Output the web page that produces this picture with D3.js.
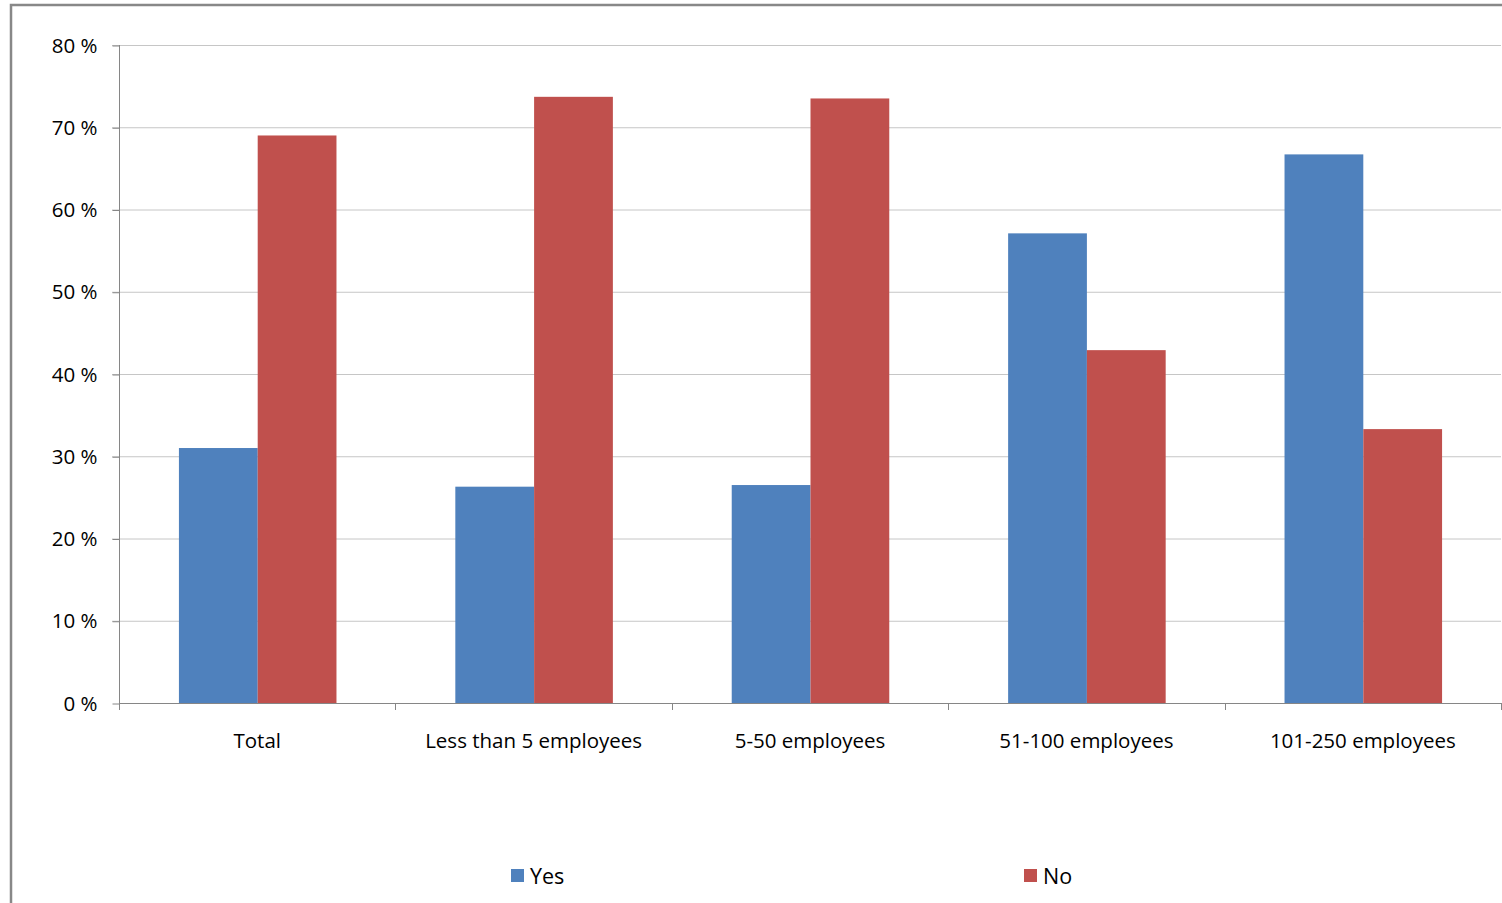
<!DOCTYPE html>
<html>
<head>
<meta charset="utf-8">
<script src="https://cdn.jsdelivr.net/npm/d3@7"></script>
<style>
html,body{margin:0;padding:0;background:#fff;overflow:hidden;}
svg{display:block;}
</style>
</head>
<body>
<script>
const categories = ["Total", "Less than 5 employees", "5-50 employees", "51-100 employees", "101-250 employees"];
const seriesNames = ["Yes", "No"];
const yesValues = [31.0, 26.3, 26.5, 57.1, 66.7];
const noValues = [69.0, 73.7, 73.5, 42.9, 33.3];
const yTicks = [0, 10, 20, 30, 40, 50, 60, 70, 80];
const colors = ["#4f81bd", "#c0504d"];

const W = 1502, H = 903;
const pLeft = 119, pRight = 1501, pTop = 45, pBottom = 703;
const font = "'Open Sans', sans-serif";

const svg = d3.select("body").append("svg").attr("width", W).attr("height", H);

// outer border (top & left visible)
svg.append("rect").attr("x", 11).attr("y", 5).attr("width", W + 20).attr("height", H + 20)
  .attr("fill", "none").attr("stroke", "#888").attr("stroke-width", 2.5);

const y = d3.scaleLinear().domain([0, 80]).range([pBottom, pTop]);
const x0 = d3.scaleBand().domain(categories).range([pLeft, pRight]).padding(0);
const groupW = x0.bandwidth() * 0.57;
const x1 = d3.scaleBand().domain(seriesNames).range([0, groupW]).padding(0);

// gridlines
svg.append("g").selectAll("line").data(yTicks.filter(d => d > 0)).join("line")
  .attr("x1", pLeft - 7).attr("x2", pRight).attr("y1", d => y(d) + 0.5).attr("y2", d => y(d) + 0.5)
  .attr("stroke", "#c6c6c6").attr("stroke-width", 1);

// bars
const data = categories.map((c, i) => ({cat: c, vals: [yesValues[i], noValues[i]]}));
const groups = svg.append("g").selectAll("g").data(data).join("g")
  .attr("transform", d => `translate(${x0(d.cat) + (x0.bandwidth() - groupW) / 2 + 0.5},0)`);
groups.selectAll("rect").data(d => d.vals.map((v, j) => ({v, s: seriesNames[j], j}))).join("rect")
  .attr("x", d => x1(d.s)).attr("width", x1.bandwidth())
  .attr("y", d => y(d.v)).attr("height", d => pBottom - y(d.v))
  .attr("fill", d => colors[d.j]);

// y axis
const yAxis = d3.axisLeft(y).tickValues(yTicks).tickSize(7).tickFormat(d => d + " %");
const gy = svg.append("g").attr("transform", `translate(${pLeft + 0.5},0)`).call(yAxis);
gy.select(".domain").attr("stroke", "#868686").attr("d", `M0,${pTop}V${pBottom}`);
gy.selectAll(".tick line").attr("stroke", "#868686").attr("transform", "translate(0,0.5)");
gy.selectAll(".tick text").attr("font-family", font).attr("font-size", 20.5).attr("fill", "#000")
  .attr("x", -22).attr("dy", "0.35em");

// x axis
const xAxis = d3.axisBottom(x0).tickSize(0).tickFormat(d => d);
const gx = svg.append("g").attr("transform", `translate(0,${pBottom + 0.5})`).call(xAxis);
gx.select(".domain").attr("stroke", "#868686").attr("d", `M${pLeft},0H${pRight}`);
gx.selectAll(".tick text").attr("font-family", font).attr("font-size", 20.5).attr("fill", "#000")
  .attr("y", 30).attr("dy", "0.71em");
// boundary tick marks
const bounds = categories.map(c => x0(c)).concat([pRight]);
svg.append("g").selectAll("line").data(bounds).join("line")
  .attr("x1", d => Math.round(d) + 0.5).attr("x2", d => Math.round(d) + 0.5)
  .attr("y1", pBottom).attr("y2", pBottom + 7).attr("stroke", "#868686");

// legend
const legendX = [511, 1024];
const lg = svg.append("g").selectAll("g").data(seriesNames).join("g")
  .attr("transform", (d, i) => `translate(${legendX[i]},869)`);
lg.append("rect").attr("width", 13).attr("height", 13).attr("fill", (d, i) => colors[i]);
lg.append("text").attr("x", 19).attr("y", 7).attr("dy", "0.35em")
  .attr("font-family", font).attr("font-size", 21.5).attr("fill", "#000").text(d => d);
</script>
</body>
</html>
